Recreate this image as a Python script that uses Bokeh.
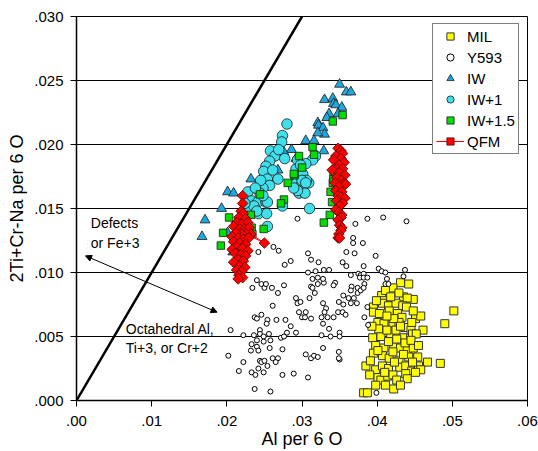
import math
from bokeh.plotting import figure
from bokeh.models import (Range1d, FixedTicker, CustomJSTickFormatter, Label, Arrow,
                          NormalHead, Legend, LegendItem)
from bokeh.embed import file_html
from bokeh.resources import INLINE

# ---------------- data ----------------
x_ticks = [0.00, 0.01, 0.02, 0.03, 0.04, 0.05, 0.06]
x_tick_labels = [".00", ".01", ".02", ".03", ".04", ".05", ".06"]
y_ticks = [0.000, 0.005, 0.010, 0.015, 0.020, 0.025, 0.030]
y_tick_labels = [".000", ".005", ".010", ".015", ".020", ".025", ".030"]

ref_line_x = [0.0, 0.03]
ref_line_y = [0.0, 0.03]
arrow_x = [0.0012, 0.0187]
arrow_y = [0.0113, 0.0069]

mil = [(0.0431,0.0092),(0.0442,0.0091),(0.0421,0.0088),(0.0502,0.0070),(0.0490,0.0060),(0.0448,0.0079),
       (0.0406,0.0082),(0.0409,0.0078),(0.0435,0.0081),(0.0429,0.0084),(0.0440,0.0080),(0.0395,0.0073),
       (0.0407,0.0076),(0.0415,0.0074),(0.0425,0.0076),(0.0434,0.0074),(0.0439,0.0073),(0.0395,0.0069),
       (0.0403,0.0068),(0.0416,0.0070),(0.0427,0.0068),(0.0433,0.0065),(0.0451,0.0064),(0.0458,0.0066),
       (0.0401,0.0061),(0.0409,0.0060),(0.0421,0.0060),(0.0429,0.0061),(0.0437,0.0057),(0.0445,0.0055),
       (0.0461,0.0055),(0.0394,0.0049),(0.0405,0.0050),(0.0418,0.0052),(0.0434,0.0049),(0.0447,0.0052),
       (0.0452,0.0052),(0.0398,0.0043),(0.0409,0.0041),(0.0422,0.0042),(0.0431,0.0041),(0.0440,0.0039),
       (0.0448,0.0041),(0.0395,0.0037),(0.0407,0.0035),(0.0416,0.0033),(0.0429,0.0031),(0.0442,0.0034),
       (0.0454,0.0034),(0.0467,0.0030),(0.0484,0.0029),(0.0385,0.0027),(0.0398,0.0024),(0.0407,0.0027),
       (0.0415,0.0025),(0.0430,0.0026),(0.0438,0.0027),(0.0446,0.0023),(0.0455,0.0027),(0.0458,0.0024),
       (0.0401,0.0018),(0.0405,0.0016),(0.0414,0.0019),(0.0421,0.0020),(0.0438,0.0021),(0.0440,0.0017),
       (0.0451,0.0022),(0.0398,0.0012),(0.0422,0.0009),(0.0382,0.0006),(0.0387,0.0006),(0.0411,0.0086),
       (0.0418,0.0081),(0.0399,0.0078),(0.0422,0.0064),(0.0413,0.0066),(0.0402,0.0056),(0.0413,0.0055),
       (0.0425,0.0055),(0.0431,0.0058),(0.0393,0.0058),(0.0415,0.0046),(0.0426,0.0048),(0.0437,0.0045),
       (0.0401,0.0039),(0.0421,0.0038),(0.0435,0.0036),(0.0447,0.0030),(0.0423,0.0030),(0.0410,0.0022),
       (0.0426,0.0016),(0.0391,0.0031),(0.0390,0.0020),(0.0431,0.0012),(0.0411,0.0012),(0.0445,0.0047),
       (0.0455,0.0043),(0.0448,0.0070),(0.0446,0.0061)]

y593 = [(0.0294,0.0142),(0.0387,0.0142),(0.0408,0.0143),(0.0439,0.0140),(0.0371,0.0138),(0.0368,0.0127),
        (0.0368,0.0123),(0.0381,0.0123),(0.0359,0.0116),(0.0370,0.0115),(0.0398,0.0113),(0.0242,0.0116),
        (0.0262,0.0120),(0.0269,0.0117),(0.0308,0.0115),(0.0312,0.0110),(0.0322,0.0108),(0.0277,0.0106),
        (0.0285,0.0109),(0.0354,0.0108),(0.0359,0.0105),(0.0382,0.0105),(0.0402,0.0103),(0.0406,0.0101),
        (0.0411,0.0100),(0.0437,0.0102),(0.0308,0.0100),(0.0318,0.0101),(0.0329,0.0102),(0.0336,0.0102),
        (0.0365,0.0098),(0.0375,0.0099),(0.0378,0.0098),(0.0382,0.0099),(0.0377,0.0096),(0.0382,0.0096),
        (0.0387,0.0096),(0.0383,0.0091),(0.0366,0.0089),(0.0374,0.0088),(0.0413,0.0095),(0.0411,0.0091),
        (0.0415,0.0091),(0.0344,0.0092),(0.0342,0.0090),(0.0435,0.0097),(0.0240,0.0094),(0.0246,0.0091),
        (0.0234,0.0088),(0.0250,0.0088),(0.0260,0.0088),(0.0276,0.0090),(0.0268,0.0084),(0.0252,0.0091),
        (0.0312,0.0089),(0.0321,0.0091),(0.0329,0.0092),(0.0314,0.0095),(0.0328,0.0095),(0.0321,0.0096),
        (0.0317,0.0084),(0.0310,0.0080),(0.0292,0.0080),(0.0294,0.0076),(0.0298,0.0077),(0.0261,0.0074),
        (0.0328,0.0076),(0.0332,0.0072),(0.0330,0.0069),(0.0326,0.0065),(0.0334,0.0065),(0.0349,0.0077),
        (0.0355,0.0075),(0.0365,0.0076),(0.0373,0.0076),(0.0355,0.0082),(0.0365,0.0086),(0.0374,0.0084),
        (0.0369,0.0080),(0.0362,0.0080),(0.0348,0.0069),(0.0354,0.0069),(0.0358,0.0067),(0.0305,0.0069),
        (0.0300,0.0065),(0.0304,0.0065),(0.0312,0.0064),(0.0342,0.0065),(0.0237,0.0065),(0.0240,0.0064),
        (0.0246,0.0067),(0.0254,0.0063),(0.0253,0.0060),(0.0266,0.0063),(0.0278,0.0063),(0.0328,0.0060),
        (0.0244,0.0055),(0.0244,0.0052),(0.0236,0.0051),(0.0249,0.0050),(0.0256,0.0052),(0.0280,0.0053),
        (0.0292,0.0053),(0.0272,0.0049),(0.0276,0.0050),(0.0205,0.0055),(0.0222,0.0051),(0.0336,0.0056),
        (0.0350,0.0053),(0.0338,0.0050),(0.0350,0.0050),(0.0326,0.0051),(0.0240,0.0047),(0.0249,0.0046),
        (0.0258,0.0047),(0.0233,0.0044),(0.0232,0.0039),(0.0240,0.0042),(0.0242,0.0039),(0.0257,0.0041),
        (0.0274,0.0040),(0.0202,0.0035),(0.0222,0.0030),(0.0244,0.0031),(0.0246,0.0030),(0.0250,0.0031),
        (0.0261,0.0033),(0.0268,0.0033),(0.0265,0.0030),(0.0254,0.0027),(0.0242,0.0025),(0.0305,0.0036),
        (0.0312,0.0033),(0.0316,0.0035),(0.0321,0.0034),(0.0328,0.0041),(0.0349,0.0038),(0.0350,0.0032),
        (0.0216,0.0023),(0.0233,0.0022),(0.0238,0.0020),(0.0249,0.0022),(0.0274,0.0020),(0.0289,0.0021),
        (0.0308,0.0018),(0.0237,0.0009),(0.0258,0.0007),(0.0399,0.0006),(0.0387,0.0073),(0.0383,0.0065),
        (0.0388,0.0059),(0.0349,0.0033),(0.0296,0.0069),(0.0285,0.0058),(0.0378,0.0086),(0.0382,0.0088),
        (0.0314,0.0088)]

iw = [(0.0350,0.0247),(0.0359,0.0241),(0.0365,0.0241),(0.0330,0.0235),(0.0341,0.0236),(0.0342,0.0232),
      (0.0345,0.0231),(0.0353,0.0229),(0.0336,0.0224),(0.0348,0.0224),(0.0333,0.0221),(0.0321,0.0217),
      (0.0322,0.0215),(0.0328,0.0213),(0.0330,0.0208),(0.0321,0.0209),(0.0305,0.0203),(0.0316,0.0203),
      (0.0329,0.0195),(0.0286,0.0196),(0.0276,0.0194),(0.0292,0.0189),(0.0268,0.0180),(0.0248,0.0176),
      (0.0245,0.0173),(0.0240,0.0167),(0.0201,0.0163),(0.0209,0.0162),(0.0193,0.0150),(0.0171,0.0141),
      (0.0167,0.0128),(0.0208,0.0116),(0.0201,0.0131),(0.0232,0.0173)]

iw1 = [(0.0280,0.0216),(0.0274,0.0207),(0.0273,0.0202),(0.0258,0.0195),(0.0264,0.0191),(0.0269,0.0196),
       (0.0257,0.0187),(0.0252,0.0183),(0.0249,0.0179),(0.0268,0.0173),(0.0254,0.0173),(0.0257,0.0168),
       (0.0248,0.0166),(0.0244,0.0162),(0.0228,0.0163),(0.0233,0.0156),(0.0229,0.0151),(0.0241,0.0155),
       (0.0252,0.0155),(0.0254,0.0155),(0.0242,0.0146),(0.0253,0.0146),(0.0229,0.0148),(0.0274,0.0152),
       (0.0254,0.0136),(0.0310,0.0150),(0.0292,0.0181),(0.0294,0.0174),(0.0301,0.0177),(0.0293,0.0170),
       (0.0296,0.0162),(0.0297,0.0167),(0.0302,0.0163),(0.0309,0.0170),(0.0306,0.0172),(0.0318,0.0191),
       (0.0314,0.0188),(0.0305,0.0185),(0.0294,0.0188),(0.0298,0.0184),(0.0300,0.0172),(0.0305,0.0170),
       (0.0304,0.0162),(0.0294,0.0164),(0.0289,0.0166),(0.0236,0.0152),(0.0240,0.0148),(0.0224,0.0154),
       (0.0248,0.0160),(0.0261,0.0180),(0.0277,0.0189),(0.0245,0.0172),(0.0238,0.0166)]

iw15 = [(0.0354,0.0223),(0.0341,0.0218),(0.0314,0.0198),(0.0316,0.0192),(0.0296,0.0191),(0.0300,0.0182),
        (0.0290,0.0176),(0.0281,0.0170),(0.0276,0.0157),(0.0272,0.0154),(0.0244,0.0161),(0.0203,0.0143),
        (0.0195,0.0131),(0.0192,0.0121),(0.0233,0.0135),(0.0232,0.0145),(0.0234,0.0130),(0.0249,0.0134),
        (0.0347,0.0187),(0.0342,0.0176),(0.0341,0.0170),(0.0338,0.0163),(0.0347,0.0164),(0.0354,0.0158),
        (0.0349,0.0151),(0.0337,0.0145),(0.0329,0.0139),(0.0345,0.0166),(0.0342,0.0173),(0.0340,0.0155),
        (0.0289,0.0177)]

qfm_low_al = [(0.0221,0.0160),(0.0221,0.0154),(0.0219,0.0148),(0.0222,0.0146),(0.0216,0.0143),(0.0225,0.0142),
              (0.0213,0.0139),(0.0220,0.0138),(0.0228,0.0139),(0.0209,0.0136),(0.0217,0.0134),(0.0224,0.0134),
              (0.0230,0.0135),(0.0232,0.0130),(0.0250,0.0123),(0.0226,0.0130),(0.0220,0.0130),(0.0212,0.0131),
              (0.0207,0.0128),(0.0215,0.0127),(0.0222,0.0126),(0.0229,0.0127),(0.0209,0.0124),(0.0217,0.0123),
              (0.0225,0.0122),(0.0213,0.0120),(0.0221,0.0119),(0.0207,0.0118),(0.0228,0.0117),(0.0211,0.0115),
              (0.0219,0.0114),(0.0225,0.0113),(0.0215,0.0110),(0.0222,0.0109),(0.0209,0.0108),(0.0217,0.0105),
              (0.0224,0.0104),(0.0213,0.0102),(0.0220,0.0101),(0.0216,0.0098),(0.0221,0.0096),(0.0215,0.0095)]

qfm_high_al = [(0.0348,0.0197),(0.0352,0.0195),(0.0354,0.0193),(0.0345,0.0191),(0.0352,0.0189),(0.0342,0.0188),
               (0.0356,0.0186),(0.0349,0.0184),(0.0346,0.0181),(0.0354,0.0181),(0.0340,0.0180),(0.0350,0.0178),
               (0.0357,0.0176),(0.0346,0.0174),(0.0353,0.0172),(0.0344,0.0170),(0.0356,0.0170),(0.0358,0.0169),
               (0.0349,0.0167),(0.0345,0.0164),(0.0353,0.0163),(0.0348,0.0160),(0.0352,0.0159),(0.0357,0.0158),
               (0.0346,0.0156),(0.0354,0.0154),(0.0350,0.0152),(0.0345,0.0149),(0.0349,0.0147),(0.0353,0.0145),
               (0.0352,0.0143),(0.0348,0.0141),(0.0350,0.0137),(0.0353,0.0135),(0.0352,0.0133),(0.0349,0.0130),
               (0.0348,0.0127),(0.0350,0.0127)]

def xs(pts): return [p[0] for p in pts]
def ys(pts): return [p[1] for p in pts]

FONT = "Liberation Sans"

p = figure(width=538, height=451, x_range=Range1d(0, 0.06), y_range=Range1d(0, 0.03),
           output_backend="svg", toolbar_location=None,
           min_border_left=76, min_border_right=11, min_border_top=16, min_border_bottom=51)
p.background_fill_color = "white"
p.border_fill_color = "white"
p.outline_line_color = "black"
p.outline_line_width = 1

p.xgrid.visible = False
p.ygrid.ticker = FixedTicker(ticks=y_ticks)
p.ygrid.grid_line_color = "black"
p.ygrid.grid_line_width = 1

p.xaxis.ticker = FixedTicker(ticks=x_ticks)
p.yaxis.ticker = FixedTicker(ticks=y_ticks)
p.xaxis.formatter = CustomJSTickFormatter(args=dict(labels=x_tick_labels), code="return labels[index];")
p.yaxis.formatter = CustomJSTickFormatter(args=dict(labels=y_tick_labels), code="return labels[index];")
for ax in (p.xaxis, p.yaxis):
    ax.axis_line_color = "black"
    ax.axis_line_width = 1.5
    ax.major_tick_line_color = "black"
    ax.major_tick_line_width = 1
    ax.major_tick_out = 6
    ax.major_tick_in = 0
    ax.minor_tick_line_color = None
    ax.major_label_text_font = FONT
    ax.major_label_text_font_size = "15px"
    ax.major_label_text_color = "black"
    ax.axis_label_text_font = FONT
    ax.axis_label_text_font_size = "18px"
    ax.axis_label_text_font_style = "normal"
    ax.axis_label_text_color = "black"
p.xaxis.major_label_standoff = 9
p.yaxis.major_label_standoff = 7
p.yaxis.axis_label = "2Ti+Cr-Na per 6 O"
p.yaxis.axis_label_standoff = 4
p.xaxis.axis_label = "Al per 6 O"
p.xaxis.axis_label_standoff = 0

# reference line y = x
p.line(ref_line_x, ref_line_y, line_color="black", line_width=2.5)

r_mil = p.scatter(xs(mil), ys(mil), marker="square", size=8, fill_color="#FFFF00",
                  line_color="#333333", line_width=1)
r_y593 = p.scatter(xs(y593), ys(y593), marker="circle", size=5, fill_color="white",
                   line_color="black", line_width=1)
r_iw = p.scatter(xs(iw), ys(iw), marker="triangle", size=10, fill_color="#1EA8DE",
                 line_color="#1a1a1a", line_width=0.8)
r_iw1 = p.scatter(xs(iw1), ys(iw1), marker="circle", size=10.5, fill_color="#3FE0EC",
                  line_color="#1a1a1a", line_width=0.8)
r_iw15 = p.scatter(xs(iw15), ys(iw15), marker="square", size=7.5, fill_color="#00DD00",
                   line_color="#1a1a1a", line_width=0.8)
qx = xs(qfm_low_al) + [math.nan] + xs(qfm_high_al)
qy = ys(qfm_low_al) + [math.nan] + ys(qfm_high_al)
r_qfm_line = p.line(qx, qy, line_color="#FF0000", line_width=1)
r_qfm = p.scatter(qx, qy, marker="square", angle=math.pi / 4, size=7.5, fill_color="#FF0000",
                  line_color="#500000", line_width=0.8)

# arrow and annotation text
p.add_layout(Arrow(start=NormalHead(size=6, fill_color="black", line_color="black"),
                   end=NormalHead(size=6, fill_color="black", line_color="black"),
                   x_start=arrow_x[0], y_start=arrow_y[0], x_end=arrow_x[1], y_end=arrow_y[1],
                   line_color="black", line_width=1))
for txt, tx, ty in [("Defects", 0.0019, 0.01383), ("or Fe+3", 0.0019, 0.01234),
                    ("Octahedral Al,", 0.00656, 0.00555), ("Ti+3, or Cr+2", 0.00656, 0.00414)]:
    p.add_layout(Label(x=tx, y=ty, text=txt, text_font=FONT, text_font_size="14px",
                       text_baseline="middle", text_align="left", text_color="black"))

legend = Legend(items=[LegendItem(label="MIL", renderers=[r_mil]),
                       LegendItem(label="Y593", renderers=[r_y593]),
                       LegendItem(label="IW", renderers=[r_iw]),
                       LegendItem(label="IW+1", renderers=[r_iw1]),
                       LegendItem(label="IW+1.5", renderers=[r_iw15]),
                       LegendItem(label="QFM", renderers=[r_qfm_line, r_qfm])],
                location=(356, 246))
legend.border_line_color = "black"
legend.border_line_width = 1
legend.background_fill_color = "white"
legend.background_fill_alpha = 1
legend.label_text_font = FONT
legend.label_text_font_size = "15px"
legend.label_text_color = "black"
legend.glyph_height = 18
legend.glyph_width = 28
legend.label_height = 18
legend.spacing = 3
legend.padding = 3
legend.margin = 0
legend.label_standoff = 3
p.add_layout(legend)

open("out.html", "w").write(file_html(p, INLINE))
